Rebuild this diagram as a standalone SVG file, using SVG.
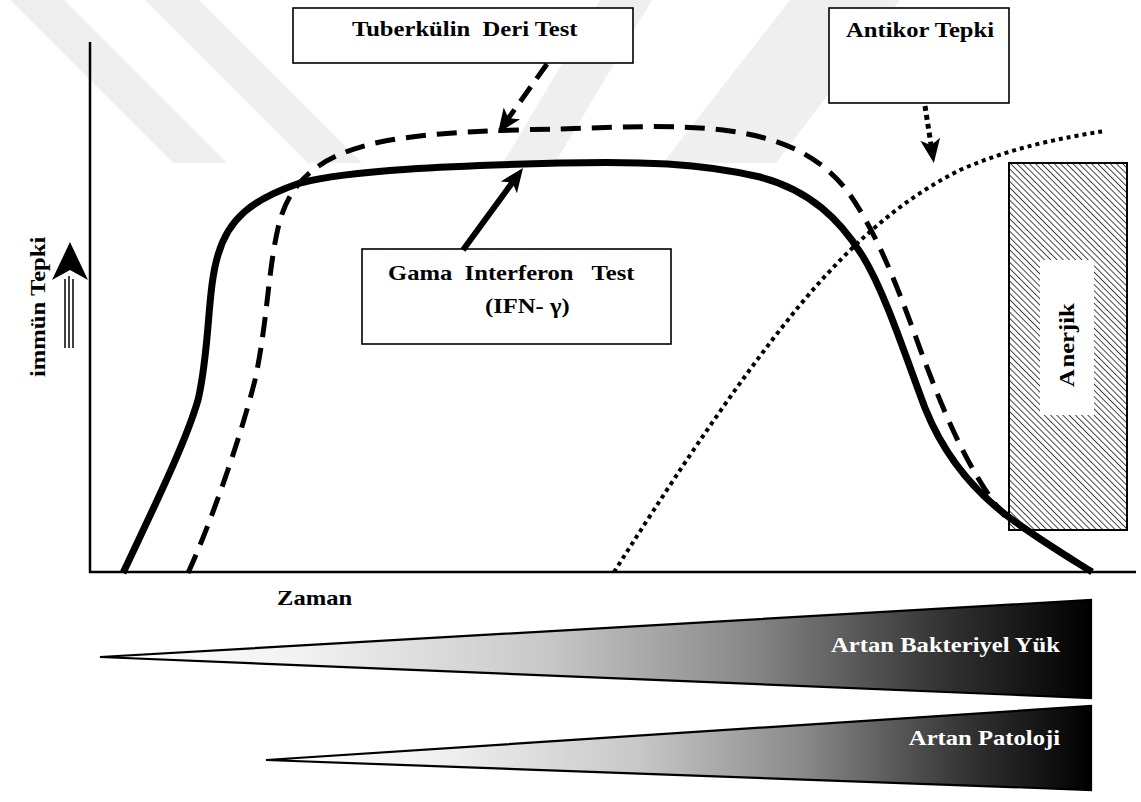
<svg xmlns="http://www.w3.org/2000/svg" width="1141" height="802" viewBox="0 0 1141 802">
<style>
.t{font-family:"Liberation Serif","Times New Roman",serif;font-weight:bold;font-size:22px;fill:#000;white-space:pre}
.w{fill:#fff}
.box{fill:#fff;stroke:#000;stroke-width:1.6}
.wm{fill:#efefef}
.ax{stroke:#000;stroke-width:2.5;fill:none}
.wedge{stroke:#000;stroke-width:2.2;stroke-linejoin:miter}
</style>
<defs>
<marker id="ah" viewBox="-8 -11 28 22" refX="0" refY="0" markerWidth="28" markerHeight="22" markerUnits="userSpaceOnUse" orient="auto">
<path d="M18,0 L-6,-10 L0,0 L-6,10 Z" fill="#000"/>
</marker>
<pattern id="hatch" width="4.4" height="4.4" patternUnits="userSpaceOnUse" patternTransform="rotate(-45)">
<rect width="4.4" height="4.4" fill="#fff"/>
<line x1="0" y1="0" x2="0" y2="4.4" stroke="#3a3a3a" stroke-width="1.9"/>
</pattern>
<linearGradient id="grad" x1="0" y1="0" x2="1" y2="0">
<stop offset="0" stop-color="#ffffff"/>
<stop offset="0.2" stop-color="#f2f2f2"/>
<stop offset="0.45" stop-color="#c8c8c8"/>
<stop offset="0.65" stop-color="#8a8a8a"/>
<stop offset="0.85" stop-color="#333"/>
<stop offset="1" stop-color="#000"/>
</linearGradient>
</defs>
<rect width="1141" height="802" fill="#fff"/>
<g id="watermark">
<polygon class="wm" points="10,0 64,0 227,163 173,163"/>
<polygon class="wm" points="145,0 199,0 362,163 308,163"/>
<polygon class="wm" points="600,0 652,0 555,163 503,163"/>
<polygon class="wm" points="790,0 900,0 776,163 663,163"/>
</g>
<g id="axes">
<line class="ax" x1="90" y1="42" x2="90" y2="573"/>
<line class="ax" x1="89" y1="572" x2="1136" y2="572"/>
<text class="t" transform="translate(277,605) scale(1.12,1)">Zaman</text>
<text class="t" transform="translate(45,377) rotate(-90) scale(1.12,1)">immün Tepki</text>
<path d="M70,242 L88,280 L70,270 L52,280 Z" fill="#000"/>
<line x1="65" y1="279" x2="65" y2="348" stroke="#000" stroke-width="1.5"/>
<line x1="69" y1="276" x2="69" y2="348" stroke="#000" stroke-width="1.5"/>
<line x1="73" y1="279" x2="73" y2="348" stroke="#000" stroke-width="1.5"/>
</g>
<g id="anerjik">
<rect x="1009" y="163" width="118" height="367" fill="url(#hatch)" stroke="#000" stroke-width="2"/>
<rect x="1040" y="260" width="54" height="155" fill="#fff"/>
<text class="t" transform="translate(1074,387) rotate(-90) scale(1.12,1)">A<tspan dx="1.5">nerjik</tspan></text>
</g>
<g id="curves" fill="none">
<path id="gama-curve" d="M123,573 C150,515 185,445 198,400 C210,350 207,290 218,255 C228,220 250,200 300,183 C350,170 450,166 560,163 C640,161 700,163 760,177 C810,190 840,220 862,255 C885,292 905,355 925,408 C945,458 975,492 1010,518 C1040,540 1065,555 1092,572" stroke="#000" stroke-width="7"/>
<path id="tuberkulin-curve" d="M188,573 C210,525 240,440 255,380 C268,320 268,265 280,220 C292,180 320,155 380,142 C430,132 500,130 560,129 C620,127 680,124 730,131 C780,138 820,155 848,192 C875,230 895,280 915,335 C935,390 955,440 978,478 C990,498 998,508 1005,516" stroke="#000" stroke-width="5" stroke-dasharray="20 11"/>
<path id="antikor-curve" d="M614,572 C660,500 730,390 800,305 C850,245 900,200 960,170 C1010,148 1060,138 1105,131" stroke="#000" stroke-width="4" stroke-dasharray="4 4"/>
</g>
<g id="tuberkulin-box">
<rect class="box" x="293" y="8" width="340" height="55"/>
<text class="t" transform="translate(352,36) scale(1.12,1)">Tuberkülin  Deri Test</text>
</g>
<g id="antikor-box">
<rect class="box" x="829" y="8" width="180" height="95"/>
<text class="t" transform="translate(846,37) scale(1.12,1)">Antikor Tepki</text>
</g>
<g id="gama-box">
<rect class="box" x="362" y="249" width="309" height="95"/>
<text class="t" transform="translate(388,280) scale(1.12,1)">Gama  Interferon   Test</text>
<text class="t" transform="translate(485,313) scale(1.12,1)">(IFN- γ)</text>
</g>
<g id="connectors" fill="none" stroke="#000">
<line x1="547" y1="64" x2="508.4" y2="118.3" stroke-width="5" stroke-dasharray="18 10" marker-end="url(#ah)"/>
<line x1="463" y1="250" x2="512.4" y2="182.5" stroke-width="6" marker-end="url(#ah)"/>
<line x1="925" y1="106" x2="931.1" y2="145.2" stroke-width="5" stroke-dasharray="5 4" marker-end="url(#ah)"/>
</g>
<g id="bakteriyel">
<polygon class="wedge" points="100,657 1091,600 1091,698" fill="url(#grad)"/>
<text class="t w" text-anchor="end" transform="translate(1060,652) scale(1.12,1)">Artan Bakteriyel Yük</text>
</g>
<g id="patoloji">
<polygon class="wedge" points="266,760 1091,706 1091,790" fill="url(#grad)"/>
<text class="t w" text-anchor="end" transform="translate(1060,745) scale(1.12,1)">Artan Patoloji</text>
</g>
</svg>
